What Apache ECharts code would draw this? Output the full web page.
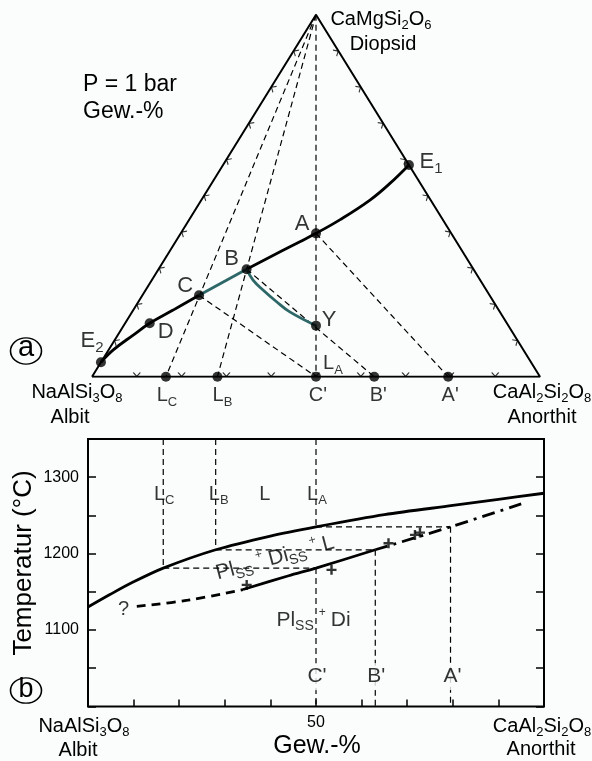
<!DOCTYPE html>
<html><head><meta charset="utf-8">
<script src="https://cdn.jsdelivr.net/npm/echarts@6/dist/echarts.min.js"></script>
<style>html,body{margin:0;padding:0;background:#fbfcfc}#c{width:592px;height:761px}</style>
</head><body><div id="c"></div>
<script>
// ===== (a) Ternary system Ab-An-Di, wt% (Ab = 100 - An - Di) =====
const pointNames = ['E1', 'A', 'B', 'C', 'D', 'E2', 'Y'];
const pointAn    = [41.5, 30.2, 19.65, 12.65, 5.5, 0, 42.95];
const pointDi    = [58.5, 39.6, 29.7, 22.5, 14.75, 4.0, 14.1];
const joinNames  = ['LC', 'LB', "C'", "B'", "A'"];
const joinAn     = [16.5, 28, 50, 63, 79.5];
const cotecticE2C_An = [0, 1.05, 3.45, 5.5, 8.9, 12.65];
const cotecticE2C_Di = [4.0, 7.4, 11.5, 14.75, 18.4, 22.5];
const cotecticBE1_An = [19.65, 27.75, 30.2, 33.7, 37.65, 39.8, 41.5];
const cotecticBE1_Di = [29.7, 37.3, 39.6, 43.4, 48.8, 53.4, 58.5];
const pathCB_An = [12.65, 19.65];
const pathCB_Di = [22.5, 29.7];
const pathBY_An = [19.65, 22.6, 26.2, 30.85, 35.2, 42.95];
const pathBY_Di = [29.7, 26.7, 23.95, 20.7, 17.9, 14.1];
const edgeTickPct = [10, 20, 30, 40, 50, 60, 70, 80, 90];
const ternaryTieFrom = ['Di', 'Di', 'Di', 'C', 'B', 'A'];
const ternaryTieTo   = ['LC', 'LB', "C'", "C'", "B'", "A'"];

// ===== (b) T-X section Ab-An at P = 1 bar =====
const liquidusX = [0, 5, 10, 16.5, 28, 40, 50, 65, 80, 90, 100];
const liquidusT = [1130, 1147, 1163, 1181, 1205, 1223, 1235, 1251, 1263, 1271, 1279];
const solidusLowX  = [10.7, 21.9, 34];
const solidusLowT  = [1131, 1139, 1153];
const solidusMidX  = [34, 44, 50, 63];
const solidusMidT  = [1153, 1171, 1181, 1205];
const solidusHighX = [63, 79.5, 95];
const solidusHighT = [1205, 1235, 1265];
const tieLiqX = [16.5, 28, 50];
const tieSolX = [50, 63, 79.5];
const tieT    = [1181, 1205, 1235];
const expX = [34.8, 53.4, 65.9, 71.7, 72.8];
const expT = [1159, 1178.7, 1213.6, 1224.5, 1227.5];
const tMin = 1000, tMax = 1350, tStep = 50;
const tLabels = [1100, 1200, 1300];
const xLabels = [50];

// ===== styling / layout =====
const FONT = '"Liberation Sans", Arial, Helvetica, sans-serif';
const INK = '#000';
const TEAL = '#2e6767';
const BG = '#fbfcfc';

const tern = (an, di) => [an + di / 2, di];
const P = {};
pointNames.forEach((n, i) => P[n] = tern(pointAn[i], pointDi[i]));
joinNames.forEach((n, i) => P[n] = tern(joinAn[i], 0));
P.Di = tern(0, 100); P.Ab = tern(0, 0); P.An = tern(100, 0);

function rich(size) {
  const s = Math.round(size * 0.66);
  return {
    n: {fontSize: size, fontFamily: FONT, color: INK, lineHeight: size + 6},
    s: {fontSize: s, fontFamily: FONT, color: INK, lineHeight: s, verticalAlign: 'bottom'},
    p: {fontSize: 12, fontFamily: FONT, color: INK, lineHeight: 12, verticalAlign: 'top', padding: [0, 5, 0, 5]}
  };
}

const ternLabelLayout = {
  E1: {t: '{n|E}{s|1}', off: [22, -3], size: 22},
  A:  {t: '{n|A}', off: [-14, -9], size: 22},
  B:  {t: '{n|B}', off: [-15, -10], size: 22},
  C:  {t: '{n|C}', off: [-14, -9], size: 22},
  D:  {t: '{n|D}', off: [16, 9], size: 22},
  E2: {t: '{n|E}{s|2}', off: [-9, -21], size: 22},
  Y:  {t: '{n|Y}', off: [13, -6], size: 22},
  LC: {t: '{n|L}{s|C}', off: [1, 19], size: 20},
  LB: {t: '{n|L}{s|B}', off: [5, 19], size: 20},
  "C'": {t: "{n|C'}", off: [2, 19], size: 20},
  "B'": {t: "{n|B'}", off: [4, 19], size: 20},
  "A'": {t: "{n|A'}", off: [2, 19], size: 20}
};

const series = [];
const base0 = {xAxisIndex: 0, yAxisIndex: 0, silent: true};
const base1 = {xAxisIndex: 1, yAxisIndex: 1, silent: true};

// triangle
series.push(Object.assign({type: 'line', data: [P.Ab, P.Di, P.An, P.Ab], symbol: 'none',
  lineStyle: {color: INK, width: 2}, z: 3}, base0));
// ternary tie lines
ternaryTieFrom.forEach((f, i) => series.push(Object.assign({type: 'line',
  data: [P[f], P[ternaryTieTo[i]]], symbol: 'none',
  lineStyle: {color: INK, width: 1.2, type: [6, 4]}, z: 2}, base0)));
// edge chevrons
const chevron = 'path://M0,0L5,6L10,0';
function ticks(data, rot, off) {
  return Object.assign({type: 'scatter', data, symbol: chevron, symbolSize: [7, 4],
    symbolRotate: rot, symbolOffset: off,
    itemStyle: {color: 'rgba(0,0,0,0)', borderColor: INK, borderWidth: 1}, z: 3}, base0);
}
series.push(ticks(edgeTickPct.map(p => tern(p, 0)), 0, [0, -2.2]));
series.push(ticks(edgeTickPct.map(p => tern(0, p)), -121.75, [1.9, 1.2]));
series.push(ticks(edgeTickPct.map(p => tern(100 - p, p)), 121.75, [-1.9, 1.2]));
// curves
function tcurve(an, di, color, w) {
  return Object.assign({type: 'line', data: an.map((a, i) => tern(a, di[i])), smooth: 0.4,
    symbol: 'none', lineStyle: {color, width: w}, z: 4}, base0);
}
series.push(tcurve(cotecticE2C_An, cotecticE2C_Di, INK, 2.8));
series.push(tcurve(cotecticBE1_An, cotecticBE1_Di, INK, 2.8));
series.push(tcurve(pathCB_An, pathCB_Di, TEAL, 2.8));
series.push(tcurve(pathBY_An, pathBY_Di, TEAL, 2.8));
// points
series.push(Object.assign({type: 'scatter',
  data: pointNames.concat(joinNames).map(n => P[n]), symbolSize: 10,
  itemStyle: {color: INK}, z: 6}, base0));
// labels for ternary
const tl = pointNames.concat(joinNames).map(n => {
  const L = ternLabelLayout[n];
  return {value: P[n], label: {offset: L.off, formatter: L.t, rich: rich(L.size)}};
});
tl.push({value: P["C'"], label: {offset: [17, -13], formatter: '{n|L}{s|A}', rich: rich(20)}});
series.push(Object.assign({type: 'scatter', data: tl, symbolSize: 1,
  itemStyle: {color: 'rgba(0,0,0,0)'},
  label: {show: true, position: 'inside', color: INK, textBorderWidth: 0}, z: 7}, base0));

// ---- (b) ----
const pair = (xs, ts) => xs.map((x, i) => [x, ts[i]]);
series.push(Object.assign({type: 'line', data: pair(liquidusX, liquidusT), smooth: 0.3,
  symbol: 'none', lineStyle: {color: INK, width: 2.8}, z: 4}, base1));
series.push(Object.assign({type: 'line', data: pair(solidusLowX, solidusLowT), smooth: 0.4,
  symbol: 'none', lineStyle: {color: INK, width: 2.8, type: [9, 6]}, z: 4}, base1));
series.push(Object.assign({type: 'line', data: pair(solidusMidX, solidusMidT), smooth: 0.3,
  symbol: 'none', lineStyle: {color: INK, width: 2.8}, z: 4}, base1));
series.push(Object.assign({type: 'line', data: pair(solidusHighX, solidusHighT), smooth: 0.3,
  symbol: 'none', lineStyle: {color: INK, width: 2.8, type: [13, 6, 3, 6]}, z: 4}, base1));
// tie lines and verticals
tieT.forEach((t, i) => {
  series.push(Object.assign({type: 'line', data: [[tieLiqX[i], t], [tieSolX[i], t]], symbol: 'none',
    lineStyle: {color: INK, width: 1.2, type: [6, 4]}, z: 2}, base1));
  series.push(Object.assign({type: 'line', data: [[tieLiqX[i], tMax], [tieLiqX[i], t]], symbol: 'none',
    lineStyle: {color: INK, width: 1.2, type: [6, 4]}, z: 2}, base1));
  series.push(Object.assign({type: 'line', data: [[tieSolX[i], t], [tieSolX[i], tMin]], symbol: 'none',
    lineStyle: {color: INK, width: 1.2, type: [6, 4]}, z: 2}, base1));
});
// experimental crosses
series.push(Object.assign({type: 'scatter', data: pair(expX, expT),
  symbol: 'path://M5,0L5,10M0,5L10,5', symbolSize: 10,
  itemStyle: {color: INK, borderColor: INK, borderWidth: 2.4}, z: 5}, base1));
// labels in (b)
const bl = [
  {value: [tieLiqX[0], 1278], label: {offset: [1, 0], formatter: '{n|L}{s|C}', rich: rich(20)}},
  {value: [tieLiqX[1], 1278], label: {offset: [3, 0], formatter: '{n|L}{s|B}', rich: rich(20)}},
  {value: [38.8, 1278], label: {formatter: '{n|L}', rich: rich(20)}},
  {value: [tieLiqX[2], 1278], label: {offset: [1, 0], formatter: '{n|L}{s|A}', rich: rich(20)}},
  {value: [tieSolX[0], 1039], label: {offset: [1, 0], formatter: "{n|C'}", rich: rich(21), backgroundColor: BG}},
  {value: [tieSolX[1], 1039], label: {offset: [1, 0], formatter: "{n|B'}", rich: rich(21), backgroundColor: BG}},
  {value: [tieSolX[2], 1039], label: {offset: [2, 0], formatter: "{n|A'}", rich: rich(21), backgroundColor: BG}},
  {value: [7.8, 1127], label: {formatter: '{n|?}', rich: rich(20)}},
  {value: [49.45, 1113], label: {formatter: '{n|Pl}{s|SS}{p|+}{n|Di}', rich: rich(21)}},
  {value: [41, 1194], label: {rotate: 15, formatter: '{n|Pl}{s|SS}{p|+}{n|Di}{s|SS}{p|+}{n|L}', rich: rich(21)}}
];
series.push(Object.assign({type: 'scatter', data: bl, symbolSize: 1,
  itemStyle: {color: 'rgba(0,0,0,0)'},
  label: {show: true, position: 'inside', color: INK, textBorderWidth: 0}, z: 7}, base1));

function txt(x, y, t, size, align, extra) {
  return Object.assign({type: 'text', x, y, silent: true, z: 10,
    style: Object.assign({text: t, fill: INK, font: size + 'px ' + FONT,
      align: align || 'center', verticalAlign: 'middle',
      textAlign: align || 'center', textVerticalAlign: 'middle', rich: rich(size)})}, extra || {});
}

const chart = echarts.init(document.getElementById('c'), null, {renderer: 'canvas'});
chart.setOption({
  animation: false,
  backgroundColor: BG,
  grid: [
    {left: 92, top: 14.7, width: 448, height: 362},
    {left: 88, top: 439, width: 456, height: 267.4, show: true, borderColor: INK, borderWidth: 2, backgroundColor: 'transparent'}
  ],
  xAxis: [
    {gridIndex: 0, type: 'value', min: 0, max: 100, show: false},
    {gridIndex: 1, type: 'value', min: 0, max: 100, interval: 10,
      axisLine: {show: false}, splitLine: {show: false},
      axisTick: {show: true, inside: true, length: 7, lineStyle: {color: INK, width: 1.5}},
      axisLabel: {formatter: v => xLabels.includes(v) ? String(v) : '', color: INK, fontSize: 16, fontFamily: FONT, margin: 8}}
  ],
  yAxis: [
    {gridIndex: 0, type: 'value', min: 0, max: 100, show: false},
    {gridIndex: 1, type: 'value', min: tMin, max: tMax, interval: tStep,
      axisLine: {show: false}, splitLine: {show: false},
      axisTick: {show: true, inside: true, length: 8, lineStyle: {color: INK, width: 1.5}},
      axisLabel: {formatter: v => tLabels.includes(v) ? String(v) : '', color: INK, fontSize: 16, fontFamily: FONT, margin: 9}},
    {gridIndex: 1, type: 'value', position: 'right', min: tMin, max: tMax, interval: tStep,
      axisLine: {show: false}, splitLine: {show: false}, axisLabel: {show: false},
      axisTick: {show: true, inside: true, length: 8, lineStyle: {color: INK, width: 1.5}}}
  ],
  graphic: [
    txt(381, 19, '{n|CaMgSi}{s|2}{n|O}{s|6}', 20),
    txt(383, 44, 'Diopsid', 20),
    txt(83, 85, 'P = 1 bar', 23, 'left'),
    txt(83, 112, 'Gew.-%', 23, 'left'),
    txt(77, 392, '{n|NaAlSi}{s|3}{n|O}{s|8}', 20),
    txt(70, 417, 'Albit', 20),
    txt(542, 392, '{n|CaAl}{s|2}{n|Si}{s|2}{n|O}{s|8}', 20),
    txt(542, 417, 'Anorthit', 20),
    txt(84, 726, '{n|NaAlSi}{s|3}{n|O}{s|8}', 20),
    txt(78, 750, 'Albit', 20),
    txt(542, 726, '{n|CaAl}{s|2}{n|Si}{s|2}{n|O}{s|8}', 20),
    txt(541, 749, 'Anorthit', 20),
    txt(317, 746, 'Gew.-%', 25),
    txt(24, 563, 'Temperatur (°C)', 26, 'center', {rotation: Math.PI / 2}),
    {type: 'circle', x: 26, y: 351, scaleY: 0.85, shape: {cx: 0, cy: 0, r: 15.5}, silent: true,
      style: {fill: 'none', stroke: INK, lineWidth: 1.6}},
    txt(26, 348, 'a', 29),
    {type: 'circle', x: 26, y: 690.5, scaleY: 0.82, shape: {cx: 0, cy: 0, r: 15.5}, silent: true,
      style: {fill: 'none', stroke: INK, lineWidth: 1.6}},
    txt(26, 690, 'b', 27)
  ],
  series
});
</script></body></html>
